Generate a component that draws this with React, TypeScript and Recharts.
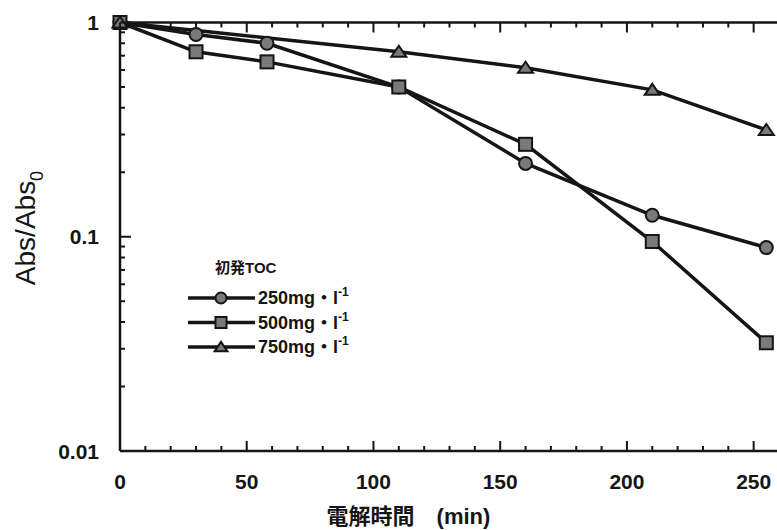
import { LineChart, Line, XAxis, YAxis, Legend } from 'recharts';

// 電解時間 (min)
const timeMin = [0, 30, 58, 110, 160, 210, 255];
const abs250 = [1, 0.88, 0.8, 0.5, 0.22, 0.126, 0.089];
const abs500 = [1, 0.73, 0.655, 0.5, 0.27, 0.095, 0.032];
// 750 mg/l series: only these points are drawn
const timeMin750 = [0, 110, 160, 210, 255];
const abs750 = [1, 0.73, 0.615, 0.485, 0.315];

const xTicks = [0, 10, 20, 30, 40, 50, 60, 70, 80, 90, 100, 110, 120, 130, 140, 150, 160, 170, 180, 190, 200, 210, 220, 230, 240, 250, 260];
const xLabels = [0, 50, 100, 150, 200, 250];
const yTicks = [0.01, 0.02, 0.03, 0.04, 0.05, 0.06, 0.07, 0.08, 0.09, 0.1, 0.2, 0.3, 0.4, 0.5, 0.6, 0.7, 0.8, 0.9, 1];
const yLabels = [0.01, 0.1, 1];

const legendTitle = '初発TOC';
const seriesNames = ['250mg・l', '500mg・l', '750mg・l'];
const shapes = ['circle', 'square', 'triangle'];

const INK = '#151515';
const FILL = '#7a7a7a';
const FONT = '"Liberation Sans", Arial, "Noto Sans CJK JP", sans-serif';
const X_GAP = 23;
const Y_GAP = 21;
const PLOT_TOP = 22.5;

const toRows = (xs: number[], ys: number[]) => xs.map((t, i) => ({ t, v: ys[i] }));
const data250 = toRows(timeMin, abs250);
const data500 = toRows(timeMin, abs500);
const data750 = toRows(timeMin750, abs750);

function Marker({ shape, cx, cy, s = 1 }: { shape: string; cx: number; cy: number; s?: number }) {
  if (shape === 'circle') {
    return <circle cx={cx} cy={cy} r={6.5 * s} fill={FILL} stroke={INK} strokeWidth={2} />;
  }
  if (shape === 'square') {
    const h = 6.5 * s;
    return <rect x={cx - h} y={cy - h} width={2 * h} height={2 * h} fill={FILL} stroke={INK} strokeWidth={2} />;
  }
  const w = 7.5 * s;
  return (
    <polygon
      points={`${cx - w},${cy + 5 * s} ${cx + w},${cy + 5 * s} ${cx},${cy - 6 * s}`}
      fill={FILL}
      stroke={INK}
      strokeWidth={2}
    />
  );
}

const dotFor = (shape: string) => (p: any) =>
  p.cx == null || p.cy == null ? <g key={`e-${p.index}`} /> : (
    <g key={`${shape}-${p.index}`}>
      <Marker shape={shape} cx={p.cx} cy={p.cy} />
    </g>
  );

// bottom axis labels + inward ticks on bottom and top frame
function BottomTick({ x, y, payload }: any) {
  const v = payload.value;
  const major = xLabels.includes(v);
  const base = y - X_GAP;
  const len = major ? 10 : 5;
  return (
    <g>
      <line x1={x} x2={x} y1={base} y2={base - len} stroke={INK} strokeWidth={2} />
      <line x1={x} x2={x} y1={PLOT_TOP} y2={PLOT_TOP + len} stroke={INK} strokeWidth={2} />
      {major && (
        <text x={x} y={y} dy="0.71em" textAnchor="middle" fontSize={21} fontWeight="bold" fontFamily={FONT} fill={INK}>
          {v}
        </text>
      )}
    </g>
  );
}

function LeftTick({ x, y, payload }: any) {
  const v = payload.value;
  const major = yLabels.includes(v);
  const base = x + Y_GAP;
  return (
    <g>
      <line x1={base} x2={base + (major ? 11 : 5)} y1={y} y2={y} stroke={INK} strokeWidth={2} />
      {major && (
        <text x={x} y={y} dy="0.36em" textAnchor="end" fontSize={21} fontWeight="bold" fontFamily={FONT} fill={INK}>
          {v}
        </text>
      )}
    </g>
  );
}

function YTitle() {
  return (
    <text transform="translate(35,228) rotate(-90)" textAnchor="middle" fontSize={28} fontFamily={FONT} fill={INK}>
      Abs/Abs
      <tspan dy={8} fontSize={18}>0</tspan>
    </text>
  );
}

function LegendBox() {
  return (
    <svg width={200} height={112} style={{ overflow: 'visible', display: 'block' }}>
      <text x={35} y={23} fontSize={15} fontWeight="bold" fontFamily={FONT} fill={INK}>
        {legendTitle}
      </text>
      {seriesNames.map((name, i) => {
        const cy = 48 + i * 24.5;
        return (
          <g key={name}>
            <line x1={8} x2={75} y1={cy} y2={cy} stroke={INK} strokeWidth={3.5} />
            <Marker shape={shapes[i]} cx={41} cy={cy} s={0.85} />
            <text x={78} y={cy + 6} fontSize={18} fontWeight="bold" fontFamily={FONT} fill={INK}>
              {name}
              <tspan dy={-8} fontSize={12}>-1</tspan>
            </text>
          </g>
        );
      })}
    </svg>
  );
}

export default function App() {
  return (
    <div style={{ position: 'fixed', left: 0, top: 0, width: 777, height: 530, overflow: 'hidden', background: '#fff' }}>
      <LineChart width={781} height={530} margin={{ top: 21.5, right: 2, left: 0, bottom: 0 }}>
        <XAxis
          xAxisId={0}
          type="number"
          dataKey="t"
          domain={[0, 260]}
          ticks={xTicks}
          interval={0}
          height={79}
          tickSize={0}
          tickMargin={X_GAP}
          tickLine={false}
          tick={BottomTick}
          axisLine={{ stroke: INK, strokeWidth: 2.5 }}
          label={{
            value: '電解時間　(min)',
            position: 'insideBottom',
            offset: 6,
            dx: -41,
            fontSize: 22,
            fontWeight: 'bold',
            fontFamily: FONT,
            fill: INK,
          }}
        />
        <XAxis
          xAxisId="top"
          orientation="top"
          type="number"
          domain={[0, 260]}
          height={1}
          tick={false}
          tickLine={false}
          axisLine={{ stroke: INK, strokeWidth: 2.5 }}
        />
        <YAxis
          yAxisId={0}
          type="number"
          scale="log"
          domain={[0.01, 1]}
          ticks={yTicks}
          interval={0}
          width={120}
          tickSize={0}
          tickMargin={Y_GAP}
          tickLine={false}
          tick={LeftTick}
          axisLine={{ stroke: INK, strokeWidth: 2.5 }}
          label={{ content: YTitle }}
        />
        <Legend
          content={LegendBox}
          layout="vertical"
          align="center"
          verticalAlign="middle"
          wrapperStyle={{ left: 180, top: 250, width: 200, height: 112 }}
        />
        <Line
          data={data250}
          dataKey="v"
          name="250"
          type="linear"
          stroke={INK}
          strokeWidth={3.5}
          dot={dotFor('circle')}
          activeDot={false}
          isAnimationActive={false}
        />
        <Line
          data={data500}
          dataKey="v"
          name="500"
          type="linear"
          stroke={INK}
          strokeWidth={3.5}
          dot={dotFor('square')}
          activeDot={false}
          isAnimationActive={false}
        />
        <Line
          data={data750}
          dataKey="v"
          name="750"
          type="linear"
          stroke={INK}
          strokeWidth={3.5}
          dot={dotFor('triangle')}
          activeDot={false}
          isAnimationActive={false}
        />
      </LineChart>
    </div>
  );
}
